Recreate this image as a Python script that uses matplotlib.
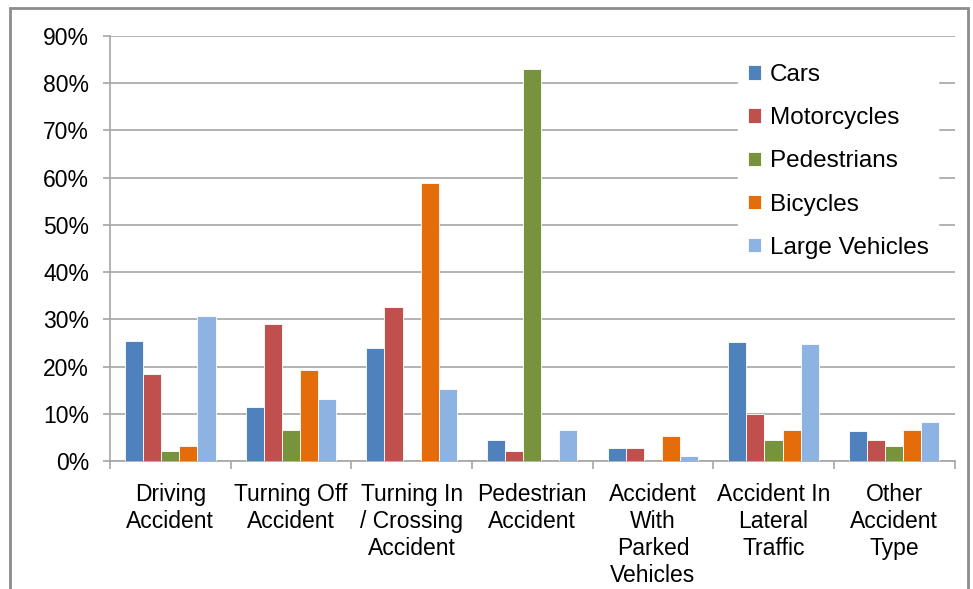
import numpy as np
import matplotlib.pyplot as plt
from matplotlib.patches import Rectangle
from matplotlib.ticker import FixedLocator

categories = ["Driving\nAccident", "Turning Off\nAccident", "Turning In\n/ Crossing\nAccident",
              "Pedestrian\nAccident", "Accident\nWith\nParked\nVehicles",
              "Accident In\nLateral\nTraffic", "Other\nAccident\nType"]
cars = [25.5, 11.4, 23.9, 4.4, 2.7, 25.2, 6.3]
motorcycles = [18.4, 29.0, 32.6, 2.2, 2.7, 10.0, 4.4]
pedestrians = [2.2, 6.5, 0, 82.9, 0, 4.4, 3.3]
bicycles = [3.3, 19.3, 58.9, 0, 5.4, 6.5, 6.5]
large_vehicles = [30.7, 13.1, 15.2, 6.5, 1.1, 24.7, 8.2]

series = [("Cars", cars, "#4F81BD"),
          ("Motorcycles", motorcycles, "#C0504D"),
          ("Pedestrians", pedestrians, "#77933C"),
          ("Bicycles", bicycles, "#E46C0A"),
          ("Large Vehicles", large_vehicles, "#8DB3E2")]

plt.rcParams['font.family'] = ['Liberation Sans', 'DejaVu Sans']

fig = plt.figure(figsize=(9.73, 5.89), dpi=100)
ax = fig.add_axes([0.113, 0.217, 0.868, 0.722])

x = np.arange(len(categories))
w = 0.15
for i, (name, vals, col) in enumerate(series):
    ax.bar(x + (i - 2) * w, vals, w, color=col, edgecolor="white", linewidth=0.6, label=name, zorder=3)

ax.set_xlim(-0.5, len(categories) - 0.5)
ax.set_ylim(0, 90)
ax.set_yticks(range(0, 91, 10))
ax.set_yticklabels(["%d%%" % v for v in range(0, 91, 10)], fontsize=16.5)
ax.yaxis.grid(True, color="#A6A6A6", linewidth=1.2, zorder=0)

ax.set_xticks(x)
ax.set_xticklabels(categories, fontsize=16.5, linespacing=1.22, va="top")
ax.tick_params(axis="x", length=0, pad=16)
ax.xaxis.set_minor_locator(FixedLocator(np.arange(-0.5, len(categories), 1)))
ax.tick_params(axis="x", which="minor", length=6, color="#A6A6A6", width=1.2)
ax.tick_params(axis="y", length=5, color="#A6A6A6", width=1.2, pad=10)

for s in ["top", "right"]:
    ax.spines[s].set_visible(False)
for s in ["left", "bottom"]:
    ax.spines[s].set_color("#A6A6A6")
    ax.spines[s].set_linewidth(1.2)

leg = ax.legend(loc="upper right", bbox_to_anchor=(0.995, 0.985), frameon=True, framealpha=1,
                edgecolor="white", fontsize=17.5, handlelength=0.55, handleheight=0.55,
                handletextpad=0.35, labelspacing=0.87, borderaxespad=0.5)

# outer frame
fig.patches.append(Rectangle((0.01, -0.05), 0.985, 1.036, transform=fig.transFigure,
                             fill=False, edgecolor="#8C8C8C", linewidth=2))

fig.savefig("out.png", dpi=100)
